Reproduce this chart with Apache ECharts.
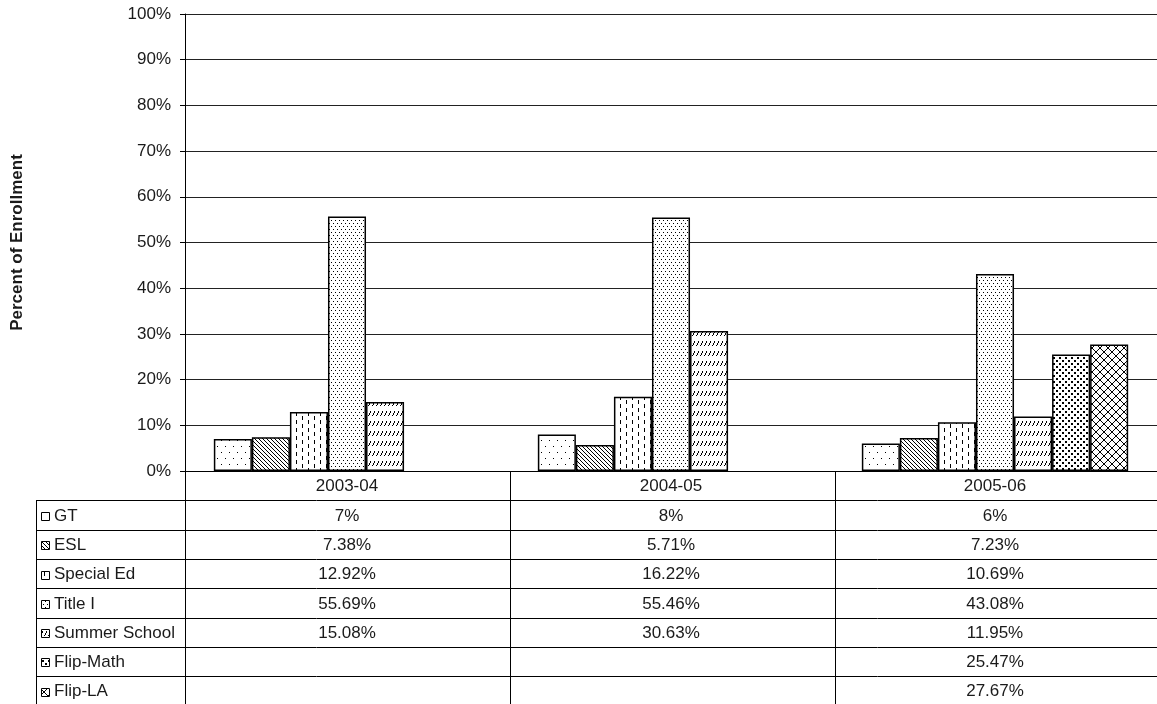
<!DOCTYPE html>
<html>
<head>
<meta charset="utf-8">
<script src="https://cdn.jsdelivr.net/npm/echarts@6/dist/echarts.min.js"></script>
<style>
  html, body { margin: 0; padding: 0; background: #fff; }
  #chart { width: 1157px; height: 704px; }
</style>
</head>
<body>
<div id="chart"></div>
<script>
// school years (columns)
const years = ['2003-04', '2004-05', '2005-06']
// program names, same order as the series
const programs = ['GT', 'ESL', 'Special Ed', 'Title I', 'Summer School', 'Flip-Math', 'Flip-LA']
// percent of enrollment per program
const gt = [7, 8, 6]
const esl = [7.38, 5.71, 7.23]
const specialEd = [12.92, 16.22, 10.69]
const titleI = [55.69, 55.46, 43.08]
const summerSchool = [15.08, 30.63, 11.95]
const flipMath = [null, null, 25.47]
const flipLA = [null, null, 27.67]
// decimals shown in the data table, per program
const tableDecimals = [0, 2, 2, 2, 2, 2, 2]
// y axis ticks
const yMin = 0
const yMax = 100
const yStep = 10

const seriesData = [gt, esl, specialEd, titleI, summerSchool, flipMath, flipLA]

// layout
const gridLeft = 185
const gridTop = 14
const gridWidth = 975
const gridHeight = 457
const tableLeft = 36
const rowH = 29.3
const font = 'Liberation Sans, Arial, sans-serif'
const ink = '#1a1a1a'

// small bitmap tiles for the Excel-style hatch fills
function tile(w, h, draw) {
  const c = document.createElement('canvas')
  c.width = w
  c.height = h
  const ctx = c.getContext('2d')
  ctx.fillStyle = '#fff'
  ctx.fillRect(0, 0, w, h)
  ctx.fillStyle = '#000'
  ctx.strokeStyle = '#000'
  draw(ctx)
  return c
}
const patterns = [
  // GT: sparse dots
  tile(8, 12, ctx => {
    ctx.fillRect(1, 2, 1, 1)
    ctx.fillRect(5, 8, 1, 1)
  }),
  // ESL: back diagonal lines
  tile(4, 4, ctx => {
    for (let i = 0; i < 4; i++) ctx.fillRect(i, i, 1, 1)
  }),
  // Special Ed: vertical dashes
  tile(12, 8, ctx => {
    ctx.fillRect(2, 0, 1, 4)
    ctx.fillRect(8, 4, 1, 4)
  }),
  // Title I: dense dots
  tile(4, 6, ctx => {
    ctx.fillRect(1, 1, 1, 1)
    ctx.fillRect(3, 4, 1, 1)
  }),
  // Summer School: rows of short steep forward slashes
  tile(4, 10, ctx => {
    ctx.fillRect(2, 1, 1, 2)
    ctx.fillRect(1, 3, 1, 2)
    ctx.fillRect(0, 5, 1, 1)
  }),
  // Flip-Math: bold staggered squares
  tile(6, 6, ctx => {
    ctx.fillRect(0, 0, 2, 2)
    ctx.fillRect(3, 3, 2, 2)
  }),
  // Flip-LA: diagonal crosshatch
  tile(8, 8, ctx => {
    for (let i = 0; i < 8; i++) {
      ctx.fillRect(i, i, 1, 1)
      ctx.fillRect(7 - i, i, 1, 1)
    }
  })
]
const fills = patterns.map(p => ({ image: p, repeat: 'repeat' }))

var chart = echarts.init(document.getElementById('chart'), null, { renderer: 'canvas' })

const series = programs.map((name, i) => ({
  name,
  type: 'bar',
  data: seriesData[i],
  barGap: '0%',
  barCategoryGap: '17.8%',
  itemStyle: {
    color: fills[i],
    borderColor: '#000',
    borderWidth: 1.5
  },
  emphasis: { disabled: true },
  animation: false
}))

const option = {
  animation: false,
  grid: {
    left: gridLeft,
    top: gridTop,
    width: gridWidth,
    height: gridHeight
  },
  xAxis: {
    type: 'category',
    data: years,
    axisLine: { lineStyle: { color: '#000', width: 1 } },
    axisTick: { show: false },
    axisLabel: { show: false }
  },
  yAxis: {
    type: 'value',
    min: yMin,
    max: yMax,
    interval: yStep,
    name: 'Percent of Enrollment',
    nameLocation: 'middle',
    nameRotate: 90,
    nameGap: 159,
    nameTextStyle: { fontFamily: font, fontSize: 17, fontWeight: 'bold', color: ink },
    axisLine: { show: true, lineStyle: { color: '#000', width: 1 } },
    axisTick: { show: true, length: 5, lineStyle: { color: '#000' } },
    axisLabel: {
      formatter: '{value}%',
      fontFamily: font,
      fontSize: 17,
      color: ink,
      margin: 14
    },
    splitLine: { lineStyle: { color: '#222', width: 1 } }
  },
  series
}
option && chart.setOption(option)

// data table under the plot, drawn as graphic elements
function buildTable() {
  const els = []
  const tableTop = gridTop + gridHeight
  const colW = gridWidth / years.length
  const bottom = tableTop + rowH * (programs.length + 1)
  const right = gridLeft + gridWidth
  const line = (x1, y1, x2, y2) => ({
    type: 'line',
    silent: true,
    shape: { x1, y1, x2, y2 },
    style: { stroke: '#000', lineWidth: 1 }
  })
  // horizontal rules
  for (let k = 1; k <= programs.length + 1; k++) {
    const y = Math.round(tableTop + rowH * k) + 0.5
    els.push(line(tableLeft, y, right, y))
  }
  // vertical rules
  els.push(line(tableLeft + 0.5, Math.round(tableTop + rowH) + 0.5, tableLeft + 0.5, bottom))
  for (let c = 0; c <= years.length; c++) {
    const x = Math.round(gridLeft + colW * c) + 0.5
    els.push(line(x, tableTop, x, bottom))
  }
  const text = (x, y, str, align) => ({
    type: 'text',
    silent: true,
    x,
    y,
    style: {
      text: str,
      font: '17px ' + font,
      fill: ink,
      align,
      verticalAlign: 'middle'
    }
  })
  // header: school years
  years.forEach((yr, c) => {
    const cx = chart.convertToPixel({ xAxisIndex: 0 }, yr)
    els.push(text(cx, tableTop + rowH / 2 + 1, yr, 'center'))
  })
  // one row per program
  programs.forEach((name, r) => {
    const cy = tableTop + rowH * (r + 1.5) + 1
    els.push({
      type: 'rect',
      silent: true,
      shape: { x: 41.5, y: Math.round(cy - 4) + 0.5, width: 8, height: 8 },
      style: { fill: fills[r], stroke: '#000', lineWidth: 1 }
    })
    els.push(text(54, cy, name, 'left'))
    seriesData[r].forEach((v, c) => {
      if (v === null) return
      const cx = chart.convertToPixel({ xAxisIndex: 0 }, years[c])
      els.push(text(cx, cy, v.toFixed(tableDecimals[r]) + '%', 'center'))
    })
  })
  chart.setOption({ graphic: els })
}
buildTable()
</script>
</body>
</html>
